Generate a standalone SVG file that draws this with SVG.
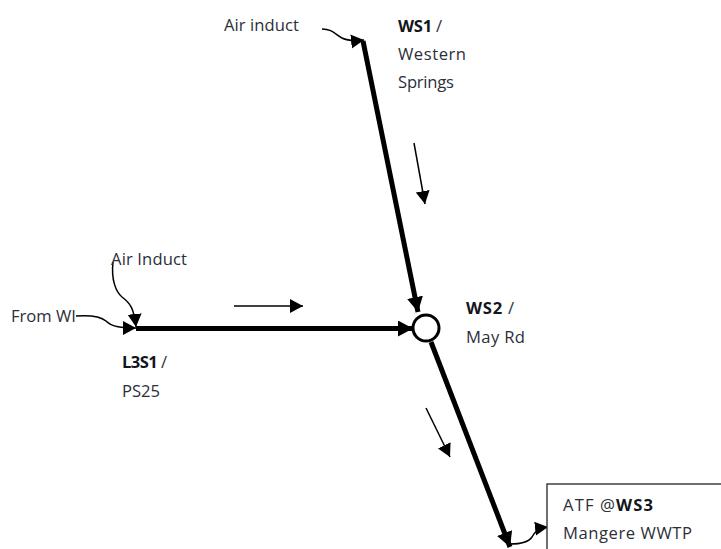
<svg xmlns="http://www.w3.org/2000/svg" width="721" height="549" viewBox="0 0 721 549">
<style>
text{font-family:"Open Sans","Noto Sans","Liberation Sans",sans-serif;font-size:16.6px;fill:#2b2f38}
.b{font-weight:700;fill:#14161c}
.main{fill:none;stroke:#000;stroke-width:5}
.thin{fill:none;stroke:#000;stroke-width:1.5}
.box{fill:#fff;stroke:#333;stroke-width:1.4}
</style>
<defs>
<marker id="big" markerUnits="userSpaceOnUse" markerWidth="18" markerHeight="18" refX="15" refY="8" orient="auto"><path d="M0,0L15,8L0,16z" fill="#000"/></marker>
<marker id="small" markerUnits="userSpaceOnUse" markerWidth="16" markerHeight="16" refX="13" refY="7" orient="auto"><path d="M0,0L13,7L0,14z" fill="#000"/></marker>
</defs>
<g id="connectors">
<path class="main" marker-end="url(#big)" d="M363,41L418,312"/>
<path class="main" marker-end="url(#big)" d="M136,328.500L413,328.500"/>
<path class="main" marker-end="url(#big)" d="M431,342L510,547"/>
<path class="thin" marker-end="url(#small)" d="M322,29C332,29 335,34 342,38C348,41 355,41 364,40"/>
<path class="thin" marker-end="url(#small)" d="M113,262C111,280 116,292 122,297C130,303 134,308 136,327"/>
<path class="thin" marker-end="url(#small)" d="M76,316C90,315 100,316 106,321C112,327 122,328 136,328"/>
<path class="thin" marker-end="url(#small)" d="M510,544C520,544 528,543 532,537C535,531 540,528 548,527"/>
<path class="thin" marker-end="url(#small)" d="M414,143L425,204"/>
<path class="thin" marker-end="url(#small)" d="M234,306L303,306"/>
<path class="thin" marker-end="url(#small)" d="M426,408L450,457"/>
</g>
<g id="air-induct-top"><text x="224" y="31" textLength="75">Air induct</text></g>
<g id="ws1"><text x="398" y="32" textLength="44"><tspan class="b">WS1</tspan> /</text><text x="398" y="60" textLength="68">Western</text><text x="398" y="88" textLength="56">Springs</text></g>
<g id="air-induct-left"><text x="111" y="265" textLength="76">Air Induct</text></g>
<g id="from-wi"><text x="11" y="322" textLength="65">From WI</text></g>
<g id="l3s1"><text x="122" y="368" textLength="45"><tspan class="b">L3S1</tspan> /</text><text x="122" y="397" textLength="38">PS25</text></g>
<g id="ws2"><circle cx="426" cy="328" r="13" fill="#fff" stroke="#000" stroke-width="3"/><text x="466" y="314" textLength="48"><tspan class="b">WS2</tspan> /</text><text x="466" y="343" textLength="59">May Rd</text></g>
<g id="ws3"><rect class="box" x="547" y="484" width="180" height="70"/><text x="563" y="511" textLength="90">ATF @<tspan class="b">WS3</tspan></text><text x="563" y="539" textLength="129">Mangere WWTP</text></g>
</svg>
